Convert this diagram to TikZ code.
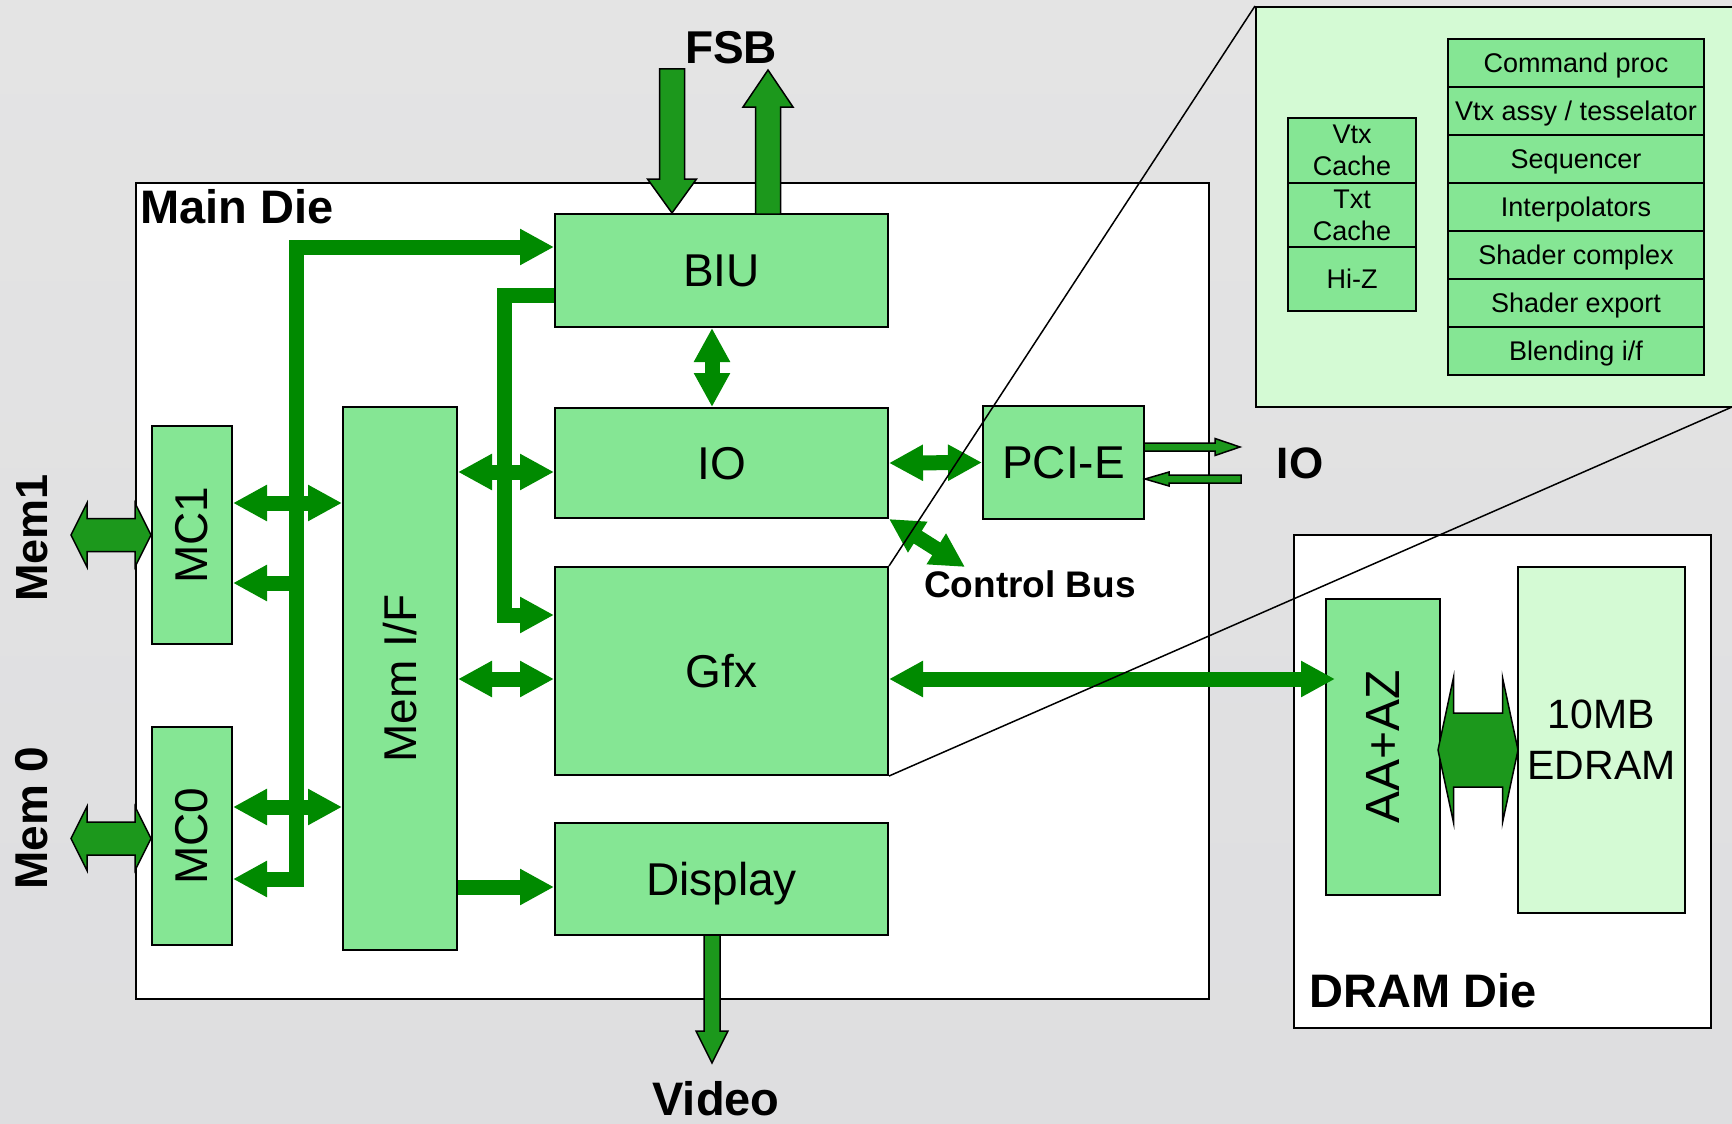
\documentclass[tikz,border=0pt]{standalone}
\usepackage{fontspec}
\setmainfont{Liberation Sans}
\usepackage{graphicx}
\usetikzlibrary{arrows.meta,calc}
\definecolor{boxgreen}{RGB}{133,230,148}
\definecolor{palegreen}{RGB}{212,250,212}
\definecolor{busgreen}{RGB}{0,138,0}
\definecolor{fatgreen}{RGB}{28,152,28}
\definecolor{bgtop}{RGB}{228,228,228}
\definecolor{bgmid}{RGB}{195,199,201}
\definecolor{bgbot}{RGB}{222,222,224}
\tikzset{
    die/.style={
        draw=black, line width=2pt, fill=white, inner sep=0pt
    },
    block/.style={
        draw=black, line width=2pt, fill=boxgreen, inner sep=0pt,
        font=\fontsize{46}{50}\selectfont
    },
    flat/.style={
        block, text height=32pt, text depth=0pt
    },
    subblock/.style={
        block, align=center,
        font=\fontsize{27}{32}\selectfont
    },
    stage/.style={
        subblock, text height=19pt, text depth=0pt
    },
    title/.style={
        inner sep=0pt,
        font=\fontsize{47}{52}\selectfont\bfseries
    },
    bus/.style={
        line width=15pt, draw=busgreen, line join=miter,
        > = {
            Triangle[length=34pt, width=34pt]
        }
    },
    fatarrow/.style={
        draw=black, line width=1.5pt, fill=fatgreen, line join=miter
    }
}
% tip, angle, length, half shaft, half head, head length
\newcommand{\onearrow}[6]{%
    \draw [fatarrow, shift={(#1)}, rotate=#2]
        (0, 0) -- (-#6, #5) -- (-#6, #4) -- (-#3, #4) -- (-#3, -#4)
        -- (-#6, -#4) -- (-#6, -#5) -- cycle;
}
% centre, angle, length, half shaft, half head, head length
\newcommand{\twoarrow}[6]{%
    \draw [fatarrow, shift={(#1)}, rotate=#2]
        ({#3/2}, 0) -- ({#3/2-#6}, #5) -- ({#3/2-#6}, #4) -- ({-#3/2+#6}, #4)
        -- ({-#3/2+#6}, #5) -- ({-#3/2}, 0) -- ({-#3/2+#6}, -#5) -- ({-#3/2+#6}, -#4)
        -- ({#3/2-#6}, -#4) -- ({#3/2-#6}, -#5) -- cycle;
}

\begin{document}
\begin{tikzpicture}[x=1pt, y=-1pt]
    \useasboundingbox (0, 0) rectangle (1732, 1124);
    \shade [top color=bgtop, middle color=bgmid, bottom color=bgbot] (0, 0) rectangle (1732, 1124);
    % Dies:
    \node [die, minimum width=1073pt, minimum height=816pt] (maindie) at (672.5, 591) {};
    \node [die, minimum width=417pt, minimum height=493pt] (dramdie) at (1502.5, 781.5) {};
    \node [die, fill=palegreen, minimum width=480pt, minimum height=400pt] (zoombox) at (1496, 207) {};
    % Main die blocks:
    \node [flat, minimum width=333pt, minimum height=113pt] (biu) at (721.5, 270.5) {BIU};
    \node [flat, minimum width=333pt, minimum height=110pt] (io) at (721.5, 463) {IO};
    \node [flat, minimum width=333pt, minimum height=208pt] (gfx) at (721.5, 671) {Gfx};
    \node [flat, minimum width=333pt, minimum height=112pt] (disp) at (721.5, 879) {Display};
    \node [block, minimum width=114pt, minimum height=543pt] (memif) at (400, 678.5) {\rotatebox{90}{Mem I/F}};
    \node [block, minimum width=80pt, minimum height=218pt] (mc1) at (192, 535) {\rotatebox{90}{MC1}};
    \node [block, minimum width=80pt, minimum height=218pt] (mc0) at (192, 836) {\rotatebox{90}{MC0}};
    \node [flat, minimum width=161pt, minimum height=113pt] (pcie) at (1063.5, 462.5) {PCI-E};
    % DRAM die blocks:
    \node [block, minimum width=114pt, minimum height=296pt, font=\fontsize{48}{52}\selectfont] (aaaz) at (1383, 747) {\rotatebox{90}{AA+AZ}};
    \node [block, fill=palegreen, minimum width=167pt, minimum height=346pt, align=center,
        font=\fontsize{41}{51}\selectfont] (edram) at (1601.5, 740) {10MB\\EDRAM};
    % Gfx close-up:
    \node [subblock, minimum width=128pt, minimum height=65pt] (vtxcache) at (1352, 150.5) {Vtx\\Cache};
    \node [subblock, minimum width=128pt, minimum height=64pt] (txtcache) at (1352, 215) {Txt\\Cache};
    \node [stage, minimum width=128pt, minimum height=64pt] (hiz) at (1352, 279) {Hi-Z};
    \foreach \name [count=\i] in {Command proc, {Vtx assy / tesselator}, Sequencer, Interpolators,
        Shader complex, Shader export, Blending i/f}
        \node [stage, minimum width=256pt, minimum height=48pt] (stage\i) at (1576, 15+48*\i) {\name};
    % Memory bus:
    \draw [bus, <->] (mc0.east |- 0,879) -- (296, 879) -- (296, 247) -- (biu.west |- 0,247);
    \draw [bus, ->] (296, 583) -- (mc1.east |- 0,583);
    \draw [bus, <->] (mc1.east |- 0,503) -- (memif.west |- 0,503);
    \draw [bus, <->] (mc0.east |- 0,807) -- (memif.west |- 0,807);
    % Graphics bus:
    \draw [bus, ->] (biu.west |- 0,295) -- (504, 295) -- (504, 615) -- (gfx.west |- 0,615);
    \draw [bus, <->] (memif.east |- 0,472) -- (io.west |- 0,472);
    \draw [bus, <->] (memif.east |- 0,679) -- (gfx.west |- 0,679);
    \draw [bus, ->] (memif.east |- 0,887) -- (disp.west |- 0,887);
    \draw [bus, <->] (biu.south -| 712,0) -- (io.north -| 712,0);
    \draw [bus, <->] (io.east) -- (pcie.west);
    \coordinate (ctrl) at (965, 567);
    \draw [bus, <->] (io.south east) -- (ctrl);
    \coordinate (aatip) at (1335, 679);
    \draw [bus, <->] (gfx.east |- aatip) -- (aatip);
    % Outside links:
    \onearrow{biu.north -| 672,0}{-90}{144}{12.5}{24.5}{34}
    \onearrow{768, 70}{90}{144}{12.5}{25}{37}
    \twoarrow{$(mc1.west)+(-40,0)$}{0}{80}{16.5}{32}{16}
    \twoarrow{$(mc0.west)+(-40,2.5)$}{0}{80}{16.5}{32}{16}
    \onearrow{712, 1063}{-90}{128}{8}{16}{32}
    \onearrow{1240, 447}{0}{96}{4}{8.5}{25}
    \onearrow{pcie.east |- 0,479}{180}{96}{4}{7}{24}
    \twoarrow{1478, 750}{0}{80}{37}{72.5}{15.5}
    % Close-up lines:
    \draw [line width=1.5pt] (gfx.north east) -- (zoombox.north west);
    \draw [line width=1.5pt] (gfx.south east) -- (1732, 407);
    % Labels:
    \node [title, anchor=west] (mainlbl) at (140, 207) {Main Die};
    \node [title] (dramlbl) at (1423, 991) {DRAM Die};
    \node [title, font=\fontsize{46}{50}\selectfont\bfseries] (fsblbl) at (731, 48) {FSB};
    \node [title] (videolbl) at (716, 1099) {Video};
    \node [title, font=\fontsize{44}{48}\selectfont\bfseries] (iolbl) at (1300, 463) {IO};
    \node [title, rotate=90, font=\fontsize{45}{50}\selectfont\bfseries] (mem1lbl) at (32, 538) {Mem1};
    \node [title, rotate=90, font=\fontsize{46}{50}\selectfont\bfseries] (mem0lbl) at (32, 818) {Mem 0};
    \node [title, font=\fontsize{37}{42}\selectfont\bfseries] (ctrllbl) at (1030, 584) {Control Bus};
\end{tikzpicture}
\end{document}
